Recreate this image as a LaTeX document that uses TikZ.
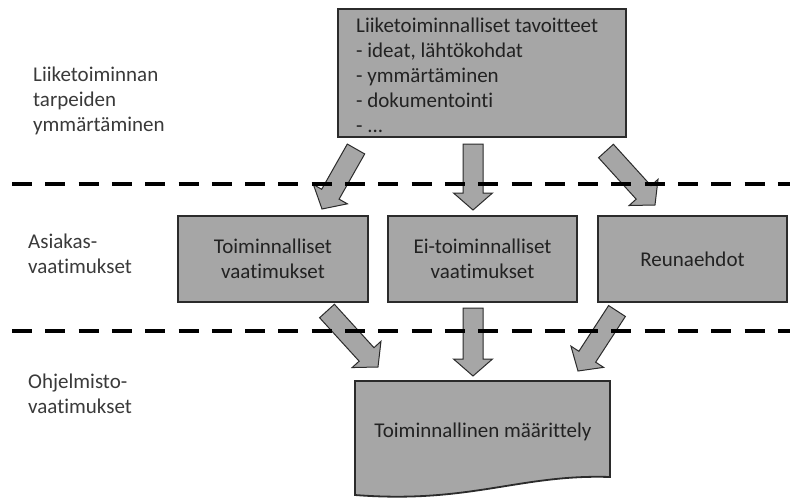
\documentclass[tikz,border=0pt]{standalone}
\usepackage{fontspec}
\setmainfont{Carlito}[Ligatures=NoCommon]
\usetikzlibrary{calc}
\definecolor{boxfill}{HTML}{A6A6A6}
\definecolor{boxline}{HTML}{2B2B2B}
\definecolor{txt}{HTML}{222222}
\definecolor{lbl}{HTML}{3A3A3A}
\tikzset{
 box/.style={draw=boxline, line width=1.8pt, fill=boxfill, inner sep=0pt},
 barrow/.style={draw=boxline, line width=1pt, fill=boxfill, line join=miter},
 sepline/.style={line width=4pt, dash pattern=on 20pt off 13.3pt},
 lbl/.style={text=lbl, align=left, anchor=north west, inner sep=0pt, font=\fontsize{21}{25}\selectfont},
 btxt/.style={text=txt, align=center, font=\fontsize{21}{25}\selectfont},
}
\newcommand\blockarr[3]{%
  \coordinate (#3base) at ($(#2)!17pt!(#1)$);
  \draw[barrow] ($(#1)!10pt!90:(#2)$) -- ($(#3base)!10pt!90:(#2)$) -- ($(#3base)!19.5pt!90:(#2)$) -- (#2)
    -- ($(#3base)!19.5pt!-90:(#2)$) -- ($(#3base)!10pt!-90:(#2)$) -- ($(#1)!10pt!-90:(#2)$) -- cycle;
}
\begin{document}
\begin{tikzpicture}[x=1pt,y=-1pt]
\useasboundingbox (0,0) rectangle (790,498);
\fill[white] (0,0) rectangle (790,498);

% top box
\node[box, minimum width=288pt, minimum height=128pt] (goal) at (482,73) {};
\node[lbl, text=txt] (goaltxt) at (356,17.5) {Liiketoiminnalliset tavoitteet\\- ideat, lähtökohdat\\- ymmärtäminen\\- dokumentointi\\- ...};

% middle boxes
\node[box, btxt, minimum width=190pt, minimum height=86pt] (fr) at (273,259) {Toiminnalliset\\vaatimukset};
\node[box, btxt, minimum width=189pt, minimum height=86pt] (nfr) at (482.5,259) {Ei-toiminnalliset\\vaatimukset};
\node[box, btxt, minimum width=189pt, minimum height=86pt] (con) at (692.5,259) {Reunaehdot};

% bottom document shape
\draw[box] (355,381) -- (610,381) -- (610,477) .. controls (520,474) and (470,504) .. (355,495) -- cycle;
\node[btxt] (spec) at (483,432) {Toiminnallinen määrittely};

% arrow end points
\coordinate (a1t) at (356,149); \coordinate (a1tip) at (322,209);
\coordinate (a2t) at (473,144); \coordinate (a2tip) at (473,210);
\coordinate (a3t) at (606,151); \coordinate (a3tip) at (655,205);
\coordinate (b1t) at (327,311); \coordinate (b1tip) at (378,367);
\coordinate (b2t) at (473,308); \coordinate (b2tip) at (473,376);
\coordinate (b3t) at (617,311); \coordinate (b3tip) at (578,371);
\blockarr{a1t}{a1tip}{a1}
\blockarr{a2t}{a2tip}{a2}
\blockarr{a3t}{a3tip}{a3}
\blockarr{b1t}{b1tip}{b1}
\blockarr{b2t}{b2tip}{b2}
\blockarr{b3t}{b3tip}{b3}

% separator lines
\coordinate (d1l) at (12,184); \coordinate (d1r) at (792,184);
\coordinate (d2l) at (12,331); \coordinate (d2r) at (792,331);
\draw[sepline] (d1l) -- (d1r);
\draw[sepline] (d2l) -- (d2r);

% left labels
\node[lbl] (l1) at (33,66.5) {Liiketoiminnan\\tarpeiden\\ymmärtäminen};
\node[lbl] (l2) at (28,233.5) {Asiakas-\\vaatimukset};
\node[lbl] (l3) at (28,373.5) {Ohjelmisto-\\vaatimukset};
\end{tikzpicture}
\end{document}
